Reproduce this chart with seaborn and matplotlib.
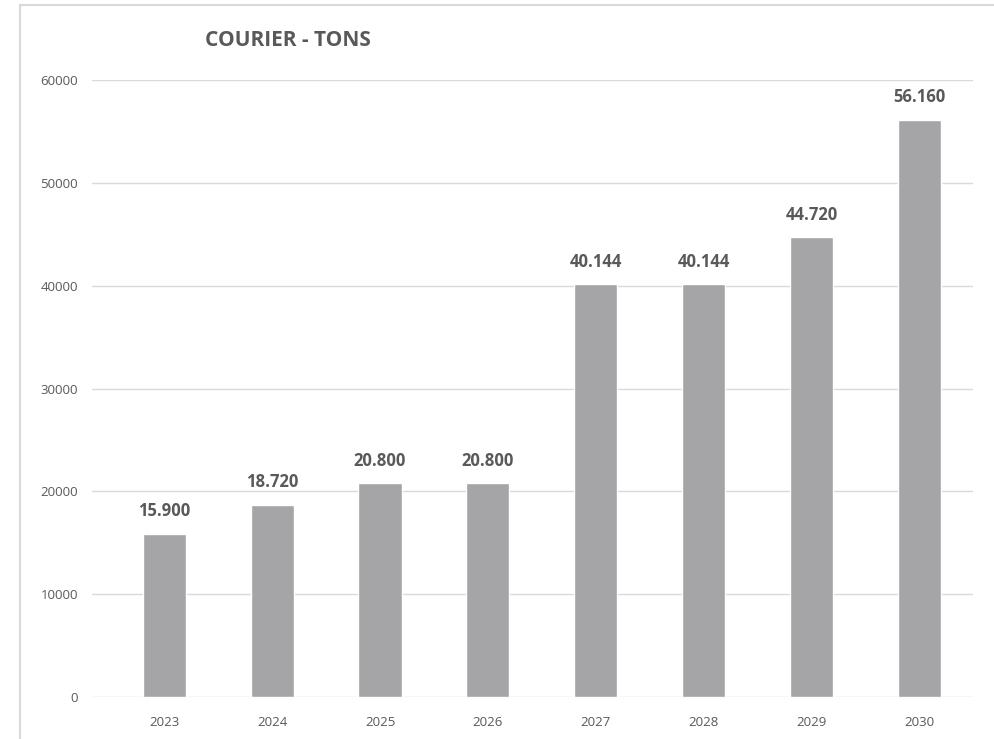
import numpy as np
import pandas as pd
import matplotlib.pyplot as plt
from matplotlib.lines import Line2D
import seaborn as sns

sns.set_style("white")
plt.rcParams['font.family'] = ['Open Sans', 'DejaVu Sans']

years = ["2023", "2024", "2025", "2026", "2027", "2028", "2029", "2030"]
tons = [15900, 18720, 20800, 20800, 40144, 40144, 44720, 56160]
labels = ["15.900", "18.720", "20.800", "20.800", "40.144", "40.144", "44.720", "56.160"]

df = pd.DataFrame({"year": years, "tons": tons})

fig = plt.figure(figsize=(9.94, 7.39), dpi=100)
ax = fig.add_axes([0.0926, 0.0568, 0.8866, 0.8349])

sns.barplot(data=df, x="year", y="tons", color="#a5a5a7", saturation=1,
            width=0.4, ax=ax)

ax.set_xlim(-0.67, 7.5)
ax.set_ylim(0, 60000)
ax.set_yticks(np.arange(0, 60001, 10000))
ax.yaxis.grid(True, color="#d9d9d9", linewidth=1)
ax.set_axisbelow(True)
for s in ax.spines.values():
    s.set_visible(False)
ax.set_xlabel("")
ax.set_ylabel("")
ax.tick_params(axis="both", length=0, labelsize=9.5, labelcolor="#595959")
ax.tick_params(axis="y", pad=10)
ax.tick_params(axis="x", pad=14)

for i, (v, t) in enumerate(zip(tons, labels)):
    ax.text(i, v + 1300, t, ha="center", va="bottom", fontsize=12,
            fontweight="bold", color="#595959", clip_on=False)

fig.text(0.29, 0.945, "COURIER - TONS", ha="center", va="center",
         fontsize=15, fontweight="bold", color="#595959")

# outer chart frame
fig.add_artist(Line2D([20 / 994, 20 / 994], [0, 1 - 5 / 739],
                      transform=fig.transFigure, color="#d9d9d9", linewidth=1.5))
fig.add_artist(Line2D([20 / 994, 1], [1 - 5 / 739, 1 - 5 / 739],
                      transform=fig.transFigure, color="#d9d9d9", linewidth=1.5))

fig.savefig("out.png", dpi=100)
